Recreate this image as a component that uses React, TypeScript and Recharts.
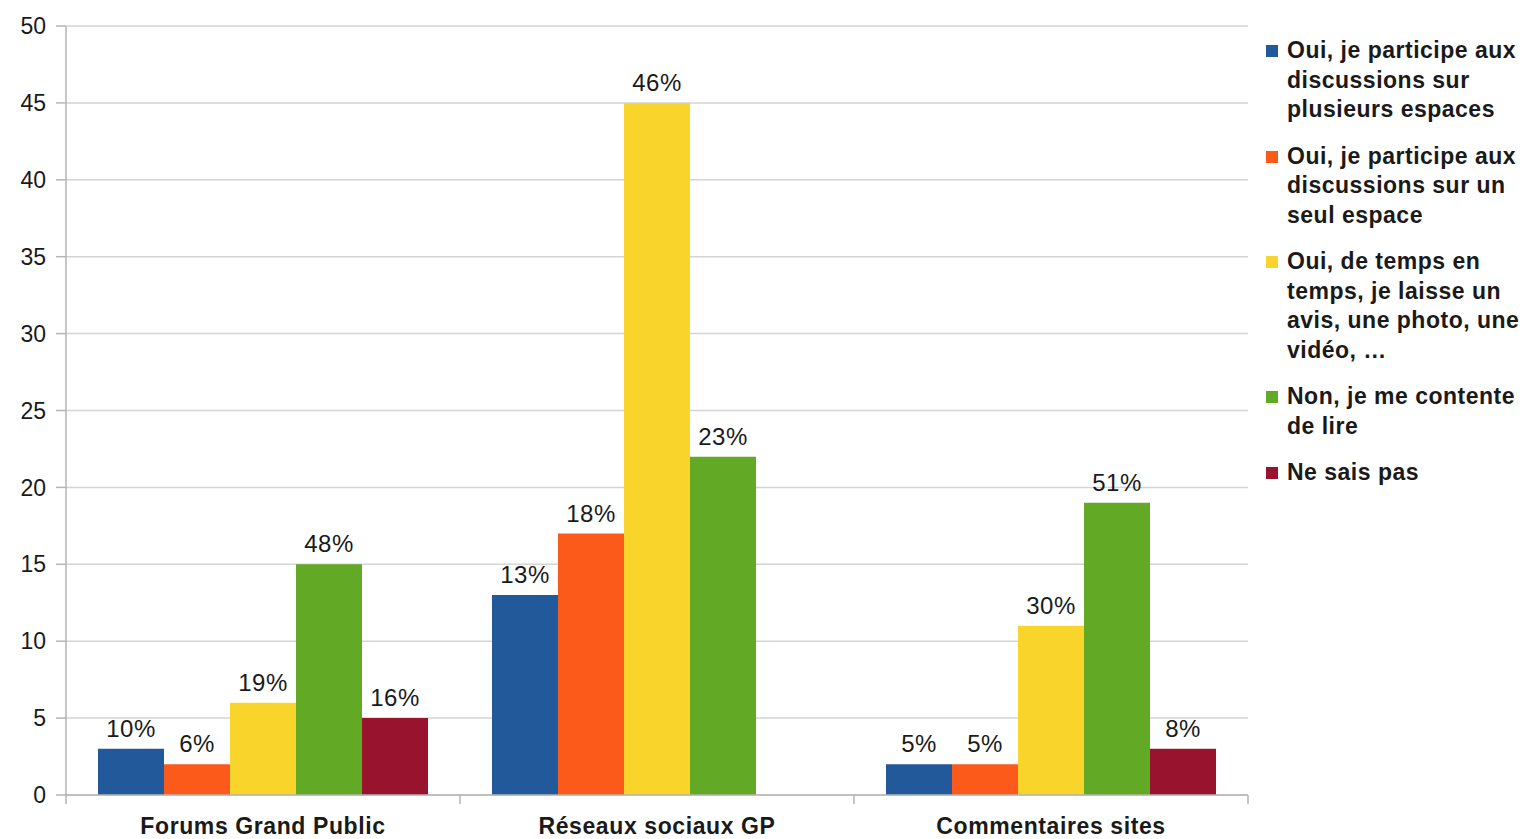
import { Bar, BarChart, CartesianGrid, LabelList, Legend, XAxis, YAxis } from 'recharts';

const categories = ['Forums Grand Public', 'Réseaux sociaux GP', 'Commentaires sites'];

const plusieurs = [3, 13, 2];
const unSeul = [2, 17, 2];
const deTemps = [6, 45, 11];
const lire = [15, 22, 19];
const neSaisPas = [5, 0, 3];

const plusieursPct = ['10%', '13%', '5%'];
const unSeulPct = ['6%', '18%', '5%'];
const deTempsPct = ['19%', '46%', '30%'];
const lirePct = ['48%', '23%', '51%'];
const neSaisPasPct = ['16%', '', '8%'];

const yTicks = [0, 5, 10, 15, 20, 25, 30, 35, 40, 45, 50];

const series = [
  {
    key: 's1',
    color: '#22599a',
    values: plusieurs,
    pct: plusieursPct,
    lines: ['Oui, je participe aux', 'discussions sur', 'plusieurs espaces'],
  },
  {
    key: 's2',
    color: '#fb5a1a',
    values: unSeul,
    pct: unSeulPct,
    lines: ['Oui, je participe aux', 'discussions sur un', 'seul espace'],
  },
  {
    key: 's3',
    color: '#f9d52b',
    values: deTemps,
    pct: deTempsPct,
    lines: ['Oui, de temps en', 'temps, je laisse un', 'avis, une photo, une', 'vidéo, …'],
  },
  {
    key: 's4',
    color: '#62a926',
    values: lire,
    pct: lirePct,
    lines: ['Non, je me contente', 'de lire'],
  },
  {
    key: 's5',
    color: '#98142e',
    values: neSaisPas,
    pct: neSaisPasPct,
    lines: ['Ne sais pas'],
  },
];

const rows = categories.map((name, i) => {
  const row: Record<string, string | number> = { name };
  for (const s of series) {
    row[s.key] = s.values[i];
    row[s.key + 'Pct'] = s.pct[i];
  }
  return row;
});

const font = '"Liberation Sans", Arial, sans-serif';
const axisGrey = '#b5b5b5';

// category label plus the small tick marks at the band edges
function CategoryTick(props: any) {
  const { x, y, payload, index, visibleTicksCount } = props;
  const half = payload.offset || 0;
  const isLast = index === visibleTicksCount - 1;
  return (
    <g>
      <line x1={x - half} y1={y} x2={x - half} y2={y + 9} stroke={axisGrey} strokeWidth={1.5} />
      {isLast ? (
        <line x1={x + half} y1={y} x2={x + half} y2={y + 9} stroke={axisGrey} strokeWidth={1.5} />
      ) : null}
      <text
        x={x}
        y={y}
        dy={39}
        textAnchor="middle"
        fill="#1a1a1a"
        fontSize={23}
        fontWeight={700}
        fontFamily={font}
        letterSpacing={0.6}
      >
        {payload.value}
      </text>
    </g>
  );
}

function LegendBox() {
  return (
    <div style={{ fontFamily: font, fontWeight: 700, fontSize: 23, color: '#1a1a1a', letterSpacing: 0.5 }}>
      {series.map((s) => (
        <div key={s.key} style={{ display: 'flex', marginBottom: 17 }}>
          <div
            style={{
              width: 12,
              height: 12,
              background: s.color,
              marginTop: 9,
              marginRight: 9,
              flexShrink: 0,
            }}
          />
          <div style={{ lineHeight: '29.5px', whiteSpace: 'nowrap' }}>
            {s.lines.map((l) => (
              <div key={l}>{l}</div>
            ))}
          </div>
        </div>
      ))}
    </div>
  );
}

export default function App() {
  return (
    <div style={{ position: 'absolute', left: 0, top: 0, background: '#fff' }}>
      <BarChart
        width={1532}
        height={839}
        data={rows}
        margin={{ top: 26, right: 18, bottom: 4, left: 11 }}
        barCategoryGap={32}
        barGap={0}
      >
        <CartesianGrid vertical={false} stroke="#d4d4d4" strokeWidth={1.5} />
        <XAxis
          dataKey="name"
          height={40}
          axisLine={{ stroke: axisGrey, strokeWidth: 1.5 }}
          tickLine={false}
          tickSize={0}
          tickMargin={0}
          tick={<CategoryTick />}
          interval={0}
        />
        <YAxis
          domain={[0, 50]}
          ticks={yTicks}
          interval={0}
          width={55}
          axisLine={{ stroke: axisGrey, strokeWidth: 1.5 }}
          tickLine={{ stroke: axisGrey, strokeWidth: 1.5 }}
          tickSize={10}
          tickMargin={10}
          tick={{ fill: '#1a1a1a', fontSize: 23, fontFamily: font }}
        />
        <Legend
          layout="vertical"
          align="right"
          verticalAlign="top"
          content={() => <LegendBox />}
          wrapperStyle={{ top: 36, left: 1266, width: 266 }}
        />
        {series.map((s) => (
          <Bar key={s.key} dataKey={s.key} fill={s.color} isAnimationActive={false}>
            <LabelList
              dataKey={s.key + 'Pct'}
              position="top"
              offset={12}
              style={{ fill: '#1a1a1a', fontSize: 24, fontFamily: font, letterSpacing: 0.5 }}
            />
          </Bar>
        ))}
      </BarChart>
    </div>
  );
}
